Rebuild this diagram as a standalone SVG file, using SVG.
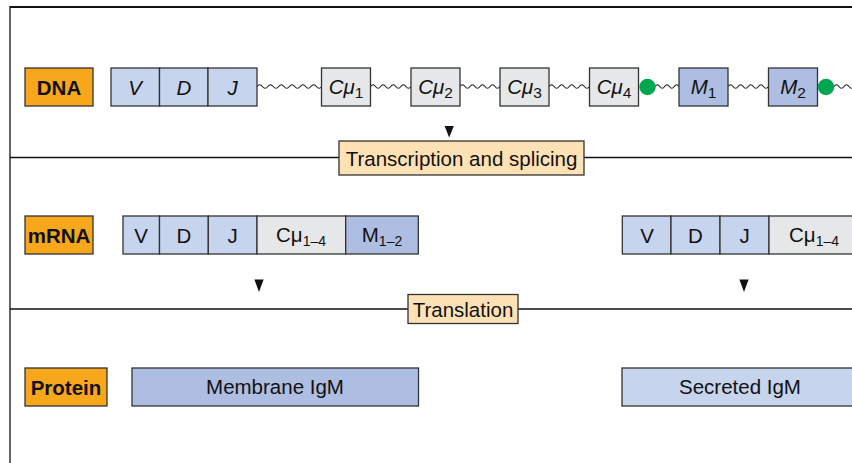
<svg xmlns="http://www.w3.org/2000/svg" width="852" height="463" viewBox="0 0 852 463">
<style>
text{font-family:"Liberation Sans",Arial,sans-serif;font-size:20.5px;fill:#111;text-anchor:middle}
.lab{fill:#F7A71B;stroke:#333;stroke-width:1.3}
.lb{fill:#C6D4EE;stroke:#333;stroke-width:1.3}
.db{fill:#AEBDE2;stroke:#333;stroke-width:1.3}
.gr{fill:#E6E7E8;stroke:#333;stroke-width:1.3}
.cr{fill:#FEE2B6;stroke:#333;stroke-width:1.3}
.b{font-weight:bold}
.i{font-style:italic}
.sub{font-size:15.5px;font-style:normal}
.sub2{font-size:14px}
.wave{fill:none;stroke:#222;stroke-width:1.1}
.rule{stroke:#111;fill:none}
.dot{fill:#00A650}
</style>
<g id="frame">
<line class="rule" x1="10" y1="7" x2="852" y2="7" stroke-width="2"/>
<line class="rule" x1="10" y1="6" x2="10" y2="463" stroke-width="1.3"/>
</g>
<g id="connectors">
<line class="rule" x1="10" y1="157.5" x2="339" y2="157.5" stroke-width="1.6"/>
<line class="rule" x1="584" y1="157.5" x2="852" y2="157.5" stroke-width="1.6"/>
<line class="rule" x1="10" y1="309" x2="408" y2="309" stroke-width="1.4"/>
<line class="rule" x1="518" y1="309" x2="852" y2="309" stroke-width="1.4"/>
<path class="wave" d="M257,86.5 q2.7,-3.6 5.4,0 t5.4,0 t5.4,0 t5.4,0 t5.4,0 t5.4,0 t5.4,0 t5.4,0 t5.4,0 t5.4,0 t5.4,0 t5.4,0"/>
<path class="wave" d="M370.5,86.5 q2.5,-3.6 5.06,0 t5.06,0 t5.06,0 t5.06,0 t5.06,0 t5.06,0 t5.06,0 t5.06,0"/>
<path class="wave" d="M460,86.5 q2.5,-3.6 5,0 t5,0 t5,0 t5,0 t5,0 t5,0 t5,0 t5,0"/>
<path class="wave" d="M549,86.5 q2.5,-3.6 5.06,0 t5.06,0 t5.06,0 t5.06,0 t5.06,0 t5.06,0 t5.06,0 t5.06,0"/>
<path class="wave" d="M655,86.5 q2.4,-3.6 4.8,0 t4.8,0 t4.8,0 t4.8,0 t4.8,0"/>
<path class="wave" d="M728,86.5 q2.5,-3.6 5.06,0 t5.06,0 t5.06,0 t5.06,0 t5.06,0 t5.06,0 t5.06,0 t5.06,0"/>
<path class="wave" d="M834,86.5 q2.5,-3.6 5,0 t5,0 t5,0 t5,0"/>
<polygon points="444.6,126 453.8,126 449.2,137.5" fill="#111"/>
<polygon points="254.4,279.5 263.6,279.5 259,292" fill="#111"/>
<polygon points="739.4,279.5 748.6,279.5 744,292" fill="#111"/>
</g>
<g id="dna-label"><rect class="lab" x="25" y="68" width="68" height="38"/><text class="b" x="59" y="94.5">DNA</text></g>
<g id="dna-vdj">
<rect class="lb" x="111" y="68" width="48.5" height="38"/><text class="i" x="135" y="94.5">V</text>
<rect class="lb" x="159.5" y="68" width="48.5" height="38"/><text class="i" x="184" y="94.5">D</text>
<rect class="lb" x="208" y="68" width="49" height="38"/><text class="i" x="232.5" y="94.5">J</text>
</g>
<g id="cmu1"><rect class="gr" x="321.5" y="68" width="49" height="38"/><text class="i" x="346" y="94">Cμ<tspan class="sub" dy="4">1</tspan></text></g>
<g id="cmu2"><rect class="gr" x="411" y="68" width="49" height="38"/><text class="i" x="435.5" y="94">Cμ<tspan class="sub" dy="4">2</tspan></text></g>
<g id="cmu3"><rect class="gr" x="500" y="68" width="49" height="38"/><text class="i" x="524.5" y="94">Cμ<tspan class="sub" dy="4">3</tspan></text></g>
<g id="cmu4"><rect class="gr" x="589.5" y="68" width="49" height="38"/><text class="i" x="614" y="94">Cμ<tspan class="sub" dy="4">4</tspan></text></g>
<g id="dot1"><circle class="dot" cx="647.5" cy="87" r="8.2"/></g>
<g id="m1"><rect class="db" x="679" y="68" width="49" height="38"/><text class="i" x="703.5" y="94">M<tspan class="sub" dy="4">1</tspan></text></g>
<g id="m2"><rect class="db" x="768.5" y="68" width="49" height="38"/><text class="i" x="793" y="94">M<tspan class="sub" dy="4">2</tspan></text></g>
<g id="dot2"><circle class="dot" cx="826" cy="87" r="8.2"/></g>
<g id="transcription"><rect class="cr" x="339" y="141" width="245" height="34"/><text x="461.5" y="165.5">Transcription and splicing</text></g>
<g id="mrna-label"><rect class="lab" x="25" y="216" width="68" height="38"/><text class="b" x="59" y="242.5">mRNA</text></g>
<g id="mrna-membrane">
<rect class="lb" x="123" y="216" width="36.5" height="38"/><text x="141" y="242.5">V</text>
<rect class="lb" x="159.5" y="216" width="48.8" height="38"/><text x="184" y="242.5">D</text>
<rect class="lb" x="208.3" y="216" width="48.7" height="38"/><text x="232.5" y="242.5">J</text>
<rect class="gr" x="257" y="216" width="88.7" height="38"/><text x="301" y="242">Cμ<tspan class="sub2" dy="4">1–4</tspan></text>
<rect class="db" x="345.7" y="216" width="72.6" height="38"/><text x="382" y="242">M<tspan class="sub2" dy="4">1–2</tspan></text>
</g>
<g id="mrna-secreted">
<rect class="lb" x="622.3" y="216" width="48.7" height="38"/><text x="647" y="242.5">V</text>
<rect class="lb" x="671" y="216" width="49" height="38"/><text x="695.5" y="242.5">D</text>
<rect class="lb" x="720" y="216" width="49" height="38"/><text x="744.5" y="242.5">J</text>
<rect class="gr" x="769" y="216" width="100" height="38"/><text x="814" y="242">Cμ<tspan class="sub2" dy="4">1–4</tspan></text>
</g>
<g id="translation"><rect class="cr" x="408" y="294.5" width="110" height="29"/><text x="463" y="316.5">Translation</text></g>
<g id="protein-label"><rect class="lab" x="25" y="368" width="82" height="38"/><text class="b" x="66" y="394.5">Protein</text></g>
<g id="membrane-igm"><rect class="db" x="132" y="368" width="286.5" height="38"/><text x="275" y="393.5">Membrane IgM</text></g>
<g id="secreted-igm"><rect class="lb" x="622" y="368" width="250" height="38"/><text x="740" y="393.5">Secreted IgM</text></g>
</svg>
